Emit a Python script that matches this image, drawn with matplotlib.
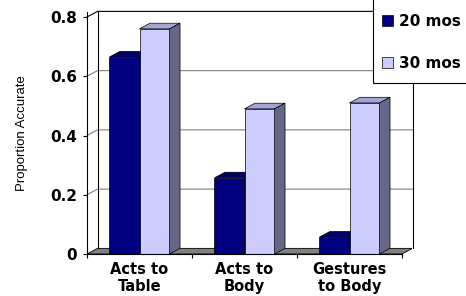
# 3D 스타일 막대그래프 재현 (Excel 풍)
import matplotlib
matplotlib.use('Agg')
from matplotlib import pyplot as plt
from matplotlib.patches import Polygon, Patch, Rectangle

# 데이터
categories = ['Acts to\nTable', 'Acts to\nBody', 'Gestures\nto Body']
series_names = ['20 mos', '30 mos']
values_20 = [0.665, 0.257, 0.057]
values_30 = [0.76, 0.49, 0.51]
yticks = [0, 0.2, 0.4, 0.6, 0.8]
ytick_labels = ['0', '0.2', '0.4', '0.6', '0.8']

plt.rcParams['font.family'] = ['DejaVu Sans']

W, H = 466, 296
fig = plt.figure(figsize=(W / 100, H / 100), dpi=100)
ax = fig.add_axes([87 / W, 42 / H, 325 / W, 242 / H])

# 3D 깊이 (데이터 단위)
dx, dy = 0.1, 0.019
bw = 0.286
n = len(categories)
x0, x1 = -0.5, n - 0.5

ax.set_xlim(x0, x0 + 325 / 105)
ax.set_ylim(0, 242 / 296.25)

c_dark, c_dark_top = '#000080', '#000066'
c_light, c_light_top, c_light_side = '#ccccff', '#a3a3d6', '#666688'

# 바닥
ax.add_patch(Polygon([(x0, 0), (x1, 0), (x1 + dx, dy), (x0 + dx, dy)],
                     closed=True, fc='#808080', ec='black', lw=0.6, zorder=1))

# 뒷벽, 옆벽 격자선
for v in yticks[1:]:
    col = 'black' if v == yticks[-1] else '#808080'
    ax.plot([x0, x0 + dx, x1 + dx], [v, v + dy, v + dy], color=col, lw=0.8,
            clip_on=False, zorder=0.5)
ax.plot([x0 + dx, x0 + dx], [dy, yticks[-1] + dy], color='black', lw=0.8, clip_on=False, zorder=0.6)
ax.plot([x1 + dx, x1 + dx], [dy, yticks[-1] + dy], color='black', lw=0.8, clip_on=False, zorder=0.6)

# 막대 (앞면 + 윗면 + 옆면)
for i in range(n):
    for j, (vals, fc, top, side) in enumerate([(values_20, c_dark, c_dark_top, c_dark),
                                               (values_30, c_light, c_light_top, c_light_side)]):
        left = i - bw + j * bw
        h = vals[i]
        z = 2 + j
        ax.bar(left, h, width=bw, align='edge', color=fc, edgecolor='black', lw=0.5, zorder=z)
        ax.add_patch(Polygon([(left, h), (left + bw, h), (left + bw + dx, h + dy), (left + dx, h + dy)],
                             closed=True, fc=top, ec='black', lw=0.5, zorder=z))
        ax.add_patch(Polygon([(left + bw, 0), (left + bw + dx, dy), (left + bw + dx, h + dy), (left + bw, h)],
                             closed=True, fc=side, ec='black', lw=0.5, zorder=z))

# 축 설정
for s in ['top', 'right']:
    ax.spines[s].set_visible(False)
ax.spines['left'].set_linewidth(0.8)
ax.spines['bottom'].set_linewidth(0.8)
ax.spines['bottom'].set_bounds(x0, x1)
ax.spines['bottom'].set_zorder(5)
ax.spines['left'].set_zorder(5)
ax.set_yticks(yticks)
ax.set_yticklabels(ytick_labels, fontsize=11, fontweight='bold')
ax.tick_params(axis='y', length=3, width=0.8, pad=4)
ax.set_xticks([x0 + k for k in range(n + 1)])
ax.set_xticklabels([''] * (n + 1))
ax.set_xticks(range(n), minor=True)
ax.set_xticklabels(categories, minor=True, fontsize=10.5, fontweight='bold', linespacing=1.12)
ax.tick_params(axis='x', which='major', length=3, width=0.8)
ax.tick_params(axis='x', which='minor', length=0, pad=6)
ax.set_ylabel('Proportion Accurate', fontsize=9.5, labelpad=16, family='Liberation Sans')
ax.patch.set_visible(False)

# 범례
fig.add_artist(Rectangle((373 / W, 1 - 83 / H), 0.25, 83 / H + 0.05, transform=fig.transFigure,
                         fc='white', ec='black', lw=0.8))
handles = [Patch(fc=c_dark, ec='black', lw=0.5), Patch(fc=c_light, ec='black', lw=0.5)]
fig.legend(handles, series_names, loc='upper left', bbox_to_anchor=(382 / W, 1 - 14 / H),
           frameon=False, borderpad=0, borderaxespad=0, handlelength=0.72, handleheight=0.72,
           handletextpad=0.4, labelspacing=1.75, prop={'size': 11, 'weight': 'bold'})

fig.savefig('out.png', dpi=100)
